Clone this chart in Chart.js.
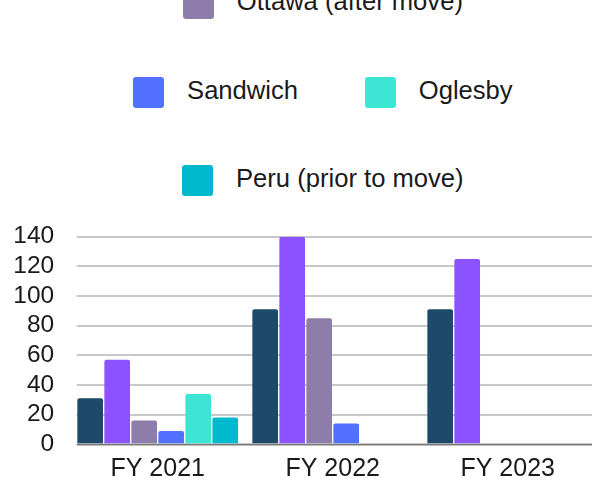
<!DOCTYPE html>
<html>
<head>
<meta charset="utf-8">
<script src="https://cdn.jsdelivr.net/npm/chart.js@4.4.1/dist/chart.umd.min.js"></script>
<style>
  html, body { margin: 0; padding: 0; width: 592px; height: 485px; overflow: hidden; background: #fff; }
  body { position: relative; font-family: "Liberation Sans", Arial, sans-serif; }
  #legend {
    position: absolute; left: 103px; top: -100px; width: 440px;
    display: flex; flex-wrap: wrap; justify-content: center;
    column-gap: 67px; row-gap: 57.3px;
  }
  .item { display: flex; align-items: center; height: 31px; }
  .box { width: 31px; height: 31px; border-radius: 3px; margin-right: 22.7px; }
  .label { font-size: 25.6px; color: #1a1a1a; white-space: nowrap; position: relative; top: -2px; }
  #wrap { position: absolute; left: 0; top: 200px; width: 600px; height: 285px; }
</style>
</head>
<body>
<div id="legend"></div>
<div id="wrap"><canvas id="chart" width="600" height="285"></canvas></div>
<script>
// categories and series
const categories = ["FY 2021", "FY 2022", "FY 2023"];
const seriesNames = ["Streator", "LaSalle", "Ottawa (after move)", "Sandwich", "Oglesby", "Peru (prior to move)"];
const seriesColors = ["#1d4a6b", "#8c52ff", "#8e7cab", "#5271ff", "#3de5d5", "#00b9cc"];

const streator = [31, 91, 91];
const lasalle = [57, 140, 125];
const ottawaAfter = [16, 85, 0];
const sandwich = [9, 14, 0];
const oglesby = [34, 0, 0];
const peruPrior = [18, 0, 0];

const yTicks = [0, 20, 40, 60, 80, 100, 120, 140];

const seriesValues = [streator, lasalle, ottawaAfter, sandwich, oglesby, peruPrior];

// grid lines in the original start a few px right of the plot edge
const gridInset = {
  id: "gridInset",
  beforeDatasetsDraw(chart) {
    const { ctx, chartArea } = chart;
    ctx.save();
    ctx.fillStyle = "#fff";
    ctx.fillRect(chartArea.left - 2, chartArea.top - 3, 8.5, chartArea.bottom - chartArea.top + 5);
    ctx.restore();
  },
};

const chart = new Chart(document.getElementById("chart"), {
  type: "bar",
  data: {
    labels: categories,
    datasets: seriesValues.map((vals, i) => ({
      label: seriesNames[i],
      data: vals,
      backgroundColor: seriesColors[i],
      borderRadius: 2,
      borderSkipped: "bottom",
      barPercentage: 0.95,
      categoryPercentage: 0.926,
    })),
  },
  options: {
    responsive: false,
    animation: false,
    layout: { padding: { top: 36.7, right: 4.8, left: 0, bottom: 0 } },
    plugins: {
      legend: { display: false },
      tooltip: { enabled: false },
    },
    scales: {
      x: {
        afterFit: (scale) => {
          scale.height = 40.7;
        },
        grid: { display: false, drawTicks: false },
        border: { color: "#7a7a7a", width: 1.5 },
        ticks: {
          padding: 10,
          color: "#1a1a1a",
          maxRotation: 0,
          font: { family: "Liberation Sans", size: 25 },
        },
      },
      y: {
        min: yTicks[0],
        max: yTicks[yTicks.length - 1],
        afterBuildTicks: (scale) => {
          scale.ticks = yTicks.map((v) => ({ value: v }));
        },
        afterFit: (scale) => {
          scale.width = 70.2;
        },
        grid: { color: "#c8c8c8", lineWidth: 2, drawTicks: false },
        border: { display: false },
        ticks: {
          autoSkip: false,
          padding: 16,
          color: "#1a1a1a",
          font: { family: "Liberation Sans", size: 24.5 },
        },
      },
    },
  },
  plugins: [gridInset],
});

// html legend built from the datasets
const legendEl = document.getElementById("legend");
chart.data.datasets.forEach((ds) => {
  const item = document.createElement("div");
  item.className = "item";
  const box = document.createElement("div");
  box.className = "box";
  box.style.background = ds.backgroundColor;
  const label = document.createElement("span");
  label.className = "label";
  label.textContent = ds.label;
  item.appendChild(box);
  item.appendChild(label);
  legendEl.appendChild(item);
});
</script>
</body>
</html>
